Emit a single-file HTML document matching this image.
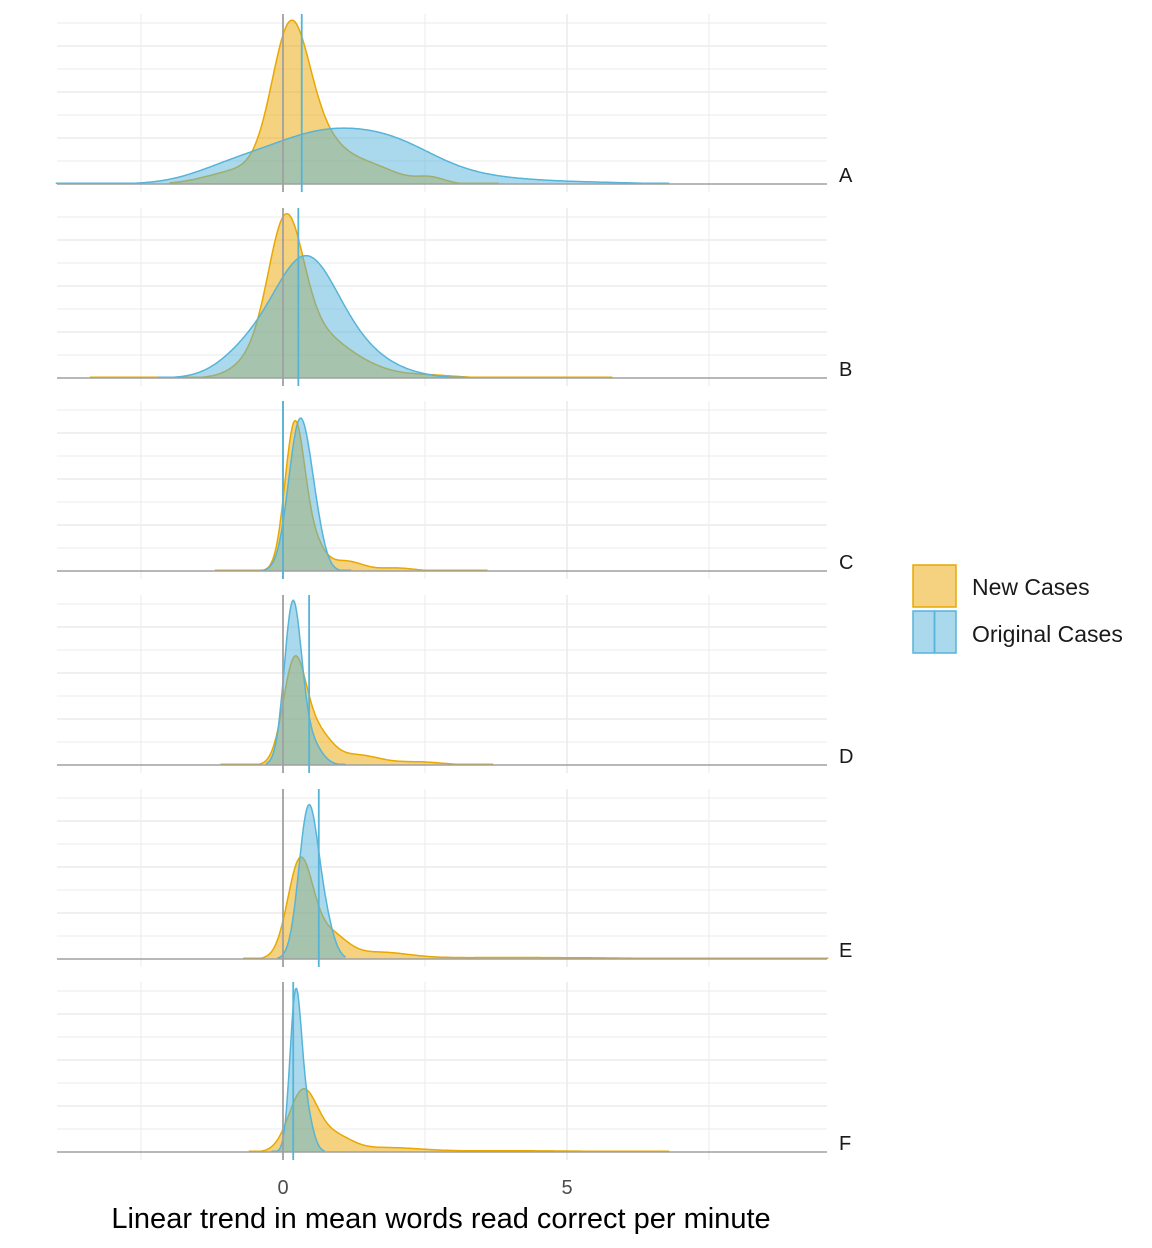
<!DOCTYPE html><html><head><style>body{margin:0;background:#fff}svg{display:block}</style></head><body>
<svg id="s" width="1152" height="1248" xmlns="http://www.w3.org/2000/svg" font-family="Liberation Sans, sans-serif"></svg>
<script>
const s=document.getElementById('s');let h='';
const X=v=>283+56.8*v;
const P=[
{b:184,v:0.33,o:[[0.12,0.32,125],[0.55,0.45,45],[-0.3,0.5,12],[1.5,0.5,18],[2.6,0.25,6],[-1,0.5,8]],os:[-2,3.8],
 c:[[0.6,0.9,45],[2.0,0.8,32],[-0.9,0.7,14],[3.5,0.8,5],[5,1,2]],cs:[-4,6.8],l:'A'},
{b:378,v:0.27,o:[[0.05,0.3,125],[0.5,0.5,42],[-0.4,0.4,20],[1.3,0.5,12],[2.5,0.5,3]],os:[-3.4,5.8],
 c:[[0.4,0.55,115],[-0.6,0.5,25],[1.3,0.5,20],[2,0.5,5]],cs:[-2.2,3.2],l:'B'},
{b:571,v:0.0,o:[[0.2,0.17,140],[0.5,0.2,30],[1.1,0.3,10],[2,0.3,3]],os:[-1.2,3.6],
 c:[[0.3,0.2,150],[0.6,0.15,20]],cs:[-0.4,1.2],l:'C'},
{b:765,v:0.46,o:[[0.2,0.2,100],[0.6,0.25,30],[1.3,0.4,10],[2.4,0.4,3]],os:[-1.1,3.7],
 c:[[0.17,0.15,155],[0.45,0.2,25]],cs:[-0.3,1.1],l:'D'},
{b:959,v:0.63,o:[[0.3,0.22,95],[0.8,0.3,25],[1.7,0.5,6],[4,2,1.5]],os:[-0.7,9.6],
 c:[[0.45,0.17,150],[0.75,0.15,30]],cs:[-0.1,1.1],l:'E'},
{b:1152,v:0.18,o:[[0.35,0.25,60],[0.9,0.3,15],[1.8,0.6,4],[4,1.5,1.2]],os:[-0.6,6.8],
 c:[[0.22,0.1,150],[0.4,0.12,40]],cs:[-0.2,0.75],l:'F'}];
function curve(g,sp,b,fill,stroke){
 let pts=[];for(let x=sp[0];x<=sp[1]+1e-9;x+=0.02){let y=0;for(const[m,sd,a]of g)y+=a*Math.exp(-(x-m)*(x-m)/(2*sd*sd));y=Math.max(y,0.8);pts.push(X(x).toFixed(1)+','+(b-y).toFixed(1));}
 return `<polygon points="${X(sp[0])},${b} ${pts.join(' ')} ${X(sp[1])},${b}" fill="${fill}" stroke="none"/><polyline points="${pts.join(' ')}" fill="none" stroke="${stroke}" stroke-width="1.5"/>`;}
for(const p of P){const b=p.b,t=b-170;
 for(let k=1;k<=7;k++)h+=`<line x1="57" x2="827" y1="${b-23*k}" y2="${b-23*k}" stroke="#ebebeb" stroke-width="${k%2?1:1.6}"/>`;
 for(const[v,w]of[[-2.5,1],[2.5,1],[7.5,1],[5,1.6]])h+=`<line x1="${X(v)}" x2="${X(v)}" y1="${t}" y2="${b+8}" stroke="#ebebeb" stroke-width="${w}"/>`;
 h+=curve(p.o,p.os,b,'rgba(235,165,0,0.5)','#E8A800');
 h+=curve(p.c,p.cs,b,'rgba(86,180,220,0.5)','#56B4D8');
 h+=`<line x1="57" x2="827" y1="${b}" y2="${b}" stroke="#a0a0a0" stroke-width="1.6"/>`;
 h+=`<line x1="283" x2="283" y1="${t}" y2="${b+8}" stroke="#a0a0a0" stroke-width="1.8"/>`;
 h+=`<line x1="${X(p.v)}" x2="${X(p.v)}" y1="${t}" y2="${b+8}" stroke="#56B4D8" stroke-width="1.8"/>`;
 h+=`<text x="839" y="${b-2}" font-size="20" fill="#1a1a1a">${p.l}</text>`;}
h+=`<text x="283" y="1194" font-size="20" fill="#4d4d4d" text-anchor="middle">0</text><text x="567" y="1194" font-size="20" fill="#4d4d4d" text-anchor="middle">5</text>`;
h+=`<text x="441" y="1228" font-size="29" fill="#000" text-anchor="middle">Linear trend in mean words read correct per minute</text>`;
h+=`<rect x="913" y="565" width="43" height="42" fill="rgba(235,165,0,0.5)" stroke="#E8A800" stroke-width="1.5"/><rect x="913" y="611" width="43" height="42" fill="rgba(86,180,220,0.5)" stroke="#56B4D8" stroke-width="1.5"/><line x1="934.5" x2="934.5" y1="611" y2="653" stroke="#56B4D8" stroke-width="1.8"/>`;
h+=`<text x="972" y="595" font-size="23" fill="#1a1a1a">New Cases</text><text x="972" y="642" font-size="23" fill="#1a1a1a">Original Cases</text>`;
s.innerHTML=h;
</script></body></html>
